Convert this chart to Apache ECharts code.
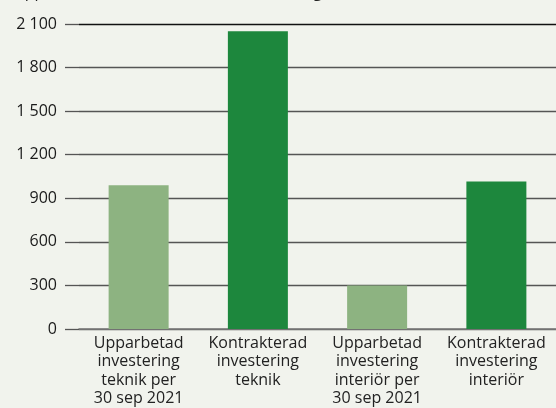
<!DOCTYPE html>
<html>
<head>
<meta charset="utf-8">
<script src="https://cdn.jsdelivr.net/npm/echarts@6/dist/echarts.min.js"></script>
<style>
  html, body { margin: 0; padding: 0; background: #f1f3ed; }
  #chart { width: 556px; height: 408px; }
</style>
</head>
<body>
<div id="chart"></div>
<script>
const categories = [
  "Upparbetad\ninvestering\nteknik per\n30 sep 2021",
  "Kontrakterad\ninvestering\nteknik",
  "Upparbetad\ninvestering\ninteriör per\n30 sep 2021",
  "Kontrakterad\ninvestering\ninteriör"
];
const values = [990, 2050, 300, 1015];
const barColors = ["#8db381", "#1d873d", "#8db381", "#1d873d"];

const chart = echarts.init(document.getElementById("chart"));

const option = {
  backgroundColor: "#f1f3ed",
  animation: false,
  title: {
    text: "Upparbetad och kontrakterad investering, MSEK",
    left: 8,
    top: -21,
    textStyle: { fontFamily: "Open Sans", fontSize: 16, fontWeight: "normal", color: "#222" }
  },
  grid: { left: 79, width: 480, top: 24, bottom: 78 },
  xAxis: {
    type: "category",
    data: categories,
    axisLine: { lineStyle: { color: "#777", width: 1.5 } },
    axisTick: { show: false },
    axisLabel: {
      interval: 0,
      margin: 5,
      fontFamily: "Open Sans",
      fontSize: 16,
      lineHeight: 18.5,
      color: "#222"
    }
  },
  yAxis: {
    type: "value",
    min: 0,
    max: 2100,
    interval: 300,
    axisLine: { show: false },
    axisTick: { show: true, length: 14, lineStyle: { color: "#555", width: 1.3 } },
    splitLine: {
      lineStyle: {
        color: ["#666", "#555", "#555", "#555", "#555", "#555", "#555", "#111"],
        width: 1.3
      }
    },
    axisLabel: {
      margin: 22,
      fontFamily: "Open Sans",
      fontSize: 16,
      color: "#1a1a1a",
      formatter: function (v) {
        return String(v).replace(/\B(?=(\d{3})+(?!\d))/g, " ");
      }
    }
  },
  series: [{
    type: "bar",
    barWidth: 60,
    data: values.map(function (v, i) {
      return { value: v, itemStyle: { color: barColors[i] } };
    })
  }]
};

chart.setOption(option);
</script>
</body>
</html>
